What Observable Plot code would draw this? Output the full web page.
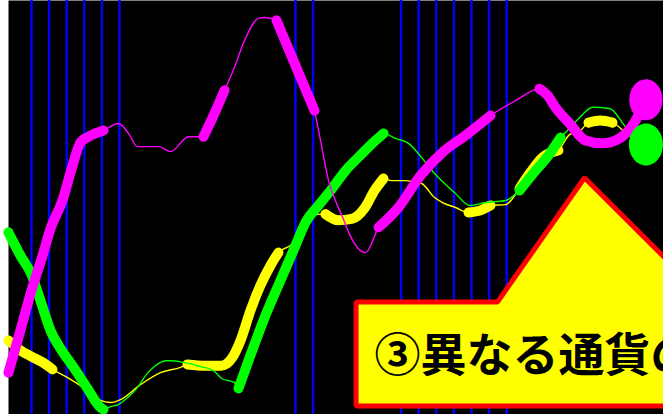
<!DOCTYPE html>
<html>
<head>
<meta charset="utf-8">
<script src="https://cdn.jsdelivr.net/npm/d3@7"></script>
<script src="https://cdn.jsdelivr.net/npm/@observablehq/plot@0.6"></script>
<style>
  html, body { margin: 0; padding: 0; background: #ffffff; }
  #chart svg { display: block; }
</style>
</head>
<body>
<div id="chart"></div>
<script>
// ---- data (x = bar index, y = indicator value 0–100) ----
const magenta = [[-1.31,10.1],[-0.63,20.3],[0,30.0],[0.63,38.4],[1.08,44.9],[1.76,51.7],[2.33,60.1],[2.78,65.7],[3.24,67.1],[4.09,68.6],
  [4.94,70.3],[5.51,67.9],[6.02,64.7],[7.22,64.7],[7.90,63.5],[8.92,67.1],[9.77,67.1],[10.34,72.2],[10.97,78.3],[11.53,83.8],
  [12.10,90.3],[12.90,95.7],[13.24,95.9],[13.92,95.2],[15.0,84.3],[16.08,73.4],[16.42,66.2],[16.88,56.5],[17.33,51.0],[17.73,47.1],
  [17.90,45.2],[18.98,39.1],[19.72,45.2],[20.85,50.0],[22.10,57.7],[23.35,63.3],[24.66,67.4],[26.08,72.2],[27.5,75.8],[28.86,78.7],
  [29.32,77.1],[29.77,74.2],[30.57,70.3],[31.48,66.2],[32.44,65.5],[33.41,66.7],[34.32,71.0],[34.91,76.0]];
const magentaThick = [[-1.31,4.09],[9.77,10.97],[13.92,16.08],[19.72,26.08],[28.86,34.91]];

const green = [[-1.31,44.0],[-0.63,38.4],[0,33.8],[0.51,27.5],[1.08,20.3],[1.65,15.9],[2.39,11.4],[3.18,6.3],[3.92,1.7],[4.09,1.2],
  [4.49,1.9],[4.94,2.4],[5.51,4.3],[6.02,6.5],[6.48,9.4],[6.93,11.4],[7.61,13.0],[7.90,13.0],[8.64,12.6],[9.60,11.6],
  [10.34,10.6],[10.80,8.7],[11.53,7.7],[11.76,6.3],[12.44,14.3],[13.30,24.0],[14.15,32.4],[15.0,40.8],[15.57,46.4],[16.31,50.5],
  [16.99,54.1],[17.84,58.9],[18.69,62.6],[19.55,66.2],[20.0,67.9],[20.68,66.7],[21.42,65.5],[22.16,62.1],[22.90,58.2],[23.35,56.3],
  [24.09,53.4],[24.89,50.5],[25.80,51.2],[26.93,51.7],[27.73,54.1],[28.64,58.9],[29.38,62.6],[30.06,66.9],[30.34,68.1],[31.14,71.7],
  [31.88,74.2],[32.84,73.9],[33.69,69.8],[34.32,66.2],[34.91,65.2]];
const greenThick = [[-1.31,4.09],[11.76,20.0],[27.73,30.06]];

const yellow = [[-1.31,17.9],[-0.63,15.5],[0,14.0],[0.63,12.6],[1.19,10.9],[2.05,8.9],[2.95,6.5],[3.92,3.4],[4.49,2.9],[5.06,3.6],
  [6.19,7.2],[7.33,10.1],[8.47,11.4],[8.86,12.1],[9.89,11.8],[10.80,11.8],[11.42,13.8],[11.88,17.9],[12.44,25.1],[13.01,31.2],
  [13.58,36.0],[14.03,39.1],[14.77,41.1],[15.17,43.5],[15.45,45.9],[15.80,48.1],[16.70,48.4],[17.44,46.9],[18.24,47.3],[18.92,49.8],
  [19.49,54.1],[20.0,57.0],[20.45,56.5],[21.19,56.5],[22.16,55.8],[22.90,52.4],[23.35,51.2],[24.09,50.0],[24.83,48.8],[25.51,49.3],
  [26.08,50.5],[26.93,50.7],[27.73,54.6],[28.35,58.5],[29.03,62.1],[29.94,63.8],[30.57,67.6],[31.19,68.6],[31.65,70.5],[32.33,71.0],
  [33.01,70.5],[33.75,68.1],[34.32,66.2]];
const yellowThick = [[-1.31,1.19],[8.86,14.03],[16.70,20.0],[24.83,26.08],[27.73,29.94],[31.65,33.01]];

const markerBars = [0,1,2,3,4,5,15,16,21,22,23,24,25,26,27];
const endMarkers = [
  {x: 34.91, y: 76.0, color: "#ff00ff", r: 20.5},
  {x: 34.91, y: 65.2, color: "#00ff00", r: 21}
];

const calloutX = [18.44, 26.48, 31.42, 36.42, 36.42, 18.44];
const calloutY = [27.2, 27.2, 57.2, 36.0, 2.05, 2.05];
const labelText = "③異なる通貨の";
const labelX = 19.49, labelY = 14.1;

// ---- helpers ----
const rows = pts => pts.map(([x, y]) => ({x, y}));
const thickRows = (pts, spans) => spans.flatMap(([a, b], i) =>
  pts.filter(([x]) => x >= a - 1e-9 && x <= b + 1e-9).map(([x, y]) => ({x, y, seg: i})));
const callout = calloutX.map((x, i) => ({x, y: calloutY[i]}));

const ellipse = {
  draw(ctx, size) {
    const r = Math.sqrt(size / Math.PI), ry = r, rx = r * 0.81, k = 0.5523;
    ctx.moveTo(rx, 0);
    ctx.bezierCurveTo(rx, k * ry, k * rx, ry, 0, ry);
    ctx.bezierCurveTo(-k * rx, ry, -rx, k * ry, -rx, 0);
    ctx.bezierCurveTo(-rx, -k * ry, -k * rx, -ry, 0, -ry);
    ctx.bezierCurveTo(k * rx, -ry, rx, -k * ry, rx, 0);
    ctx.closePath();
  }
};

function series(pts, spans, color) {
  return [
    Plot.line(rows(pts), {x: "x", y: "y", stroke: color, strokeWidth: 1.4, curve: "monotone-x"}),
    Plot.line(thickRows(pts, spans), {x: "x", y: "y", z: "seg", stroke: color, strokeWidth: 10,
      strokeLinecap: "round", strokeLinejoin: "round", curve: "monotone-x"})
  ];
}

const chart = Plot.plot({
  width: 663,
  height: 414,
  marginLeft: 8, marginRight: 0, marginTop: 0, marginBottom: 0,
  style: {background: "#ffffff"},
  x: {domain: [-1.307, 35.909], axis: null},
  y: {domain: [0, 100], axis: null},
  r: {type: "identity"},
  marks: [
    Plot.frame({fill: "#000000", stroke: null}),
    Plot.ruleX(markerBars, {stroke: "#0000ff", strokeWidth: 2.4}),
    ...series(yellow, yellowThick, "#ffff00"),
    ...series(green, greenThick, "#00ff00"),
    ...series(magenta, magentaThick, "#ff00ff"),
    Plot.dot(endMarkers, {x: "x", y: "y", r: "r", fill: "color", stroke: null, symbol: ellipse}),
    Plot.line(callout, {x: "x", y: "y", fill: "#ffff00", stroke: "#ff0000", strokeWidth: 5,
      strokeLinejoin: "miter", curve: "linear-closed"}),
    Plot.text([labelText], {x: () => labelX, y: () => labelY, text: d => d, textAnchor: "start",
      fontSize: 46, fontWeight: "bold", fontFamily: "'Noto Sans CJK JP', sans-serif", fill: "#000000"})
  ]
});
document.getElementById("chart").appendChild(chart);
</script>
</body>
</html>
